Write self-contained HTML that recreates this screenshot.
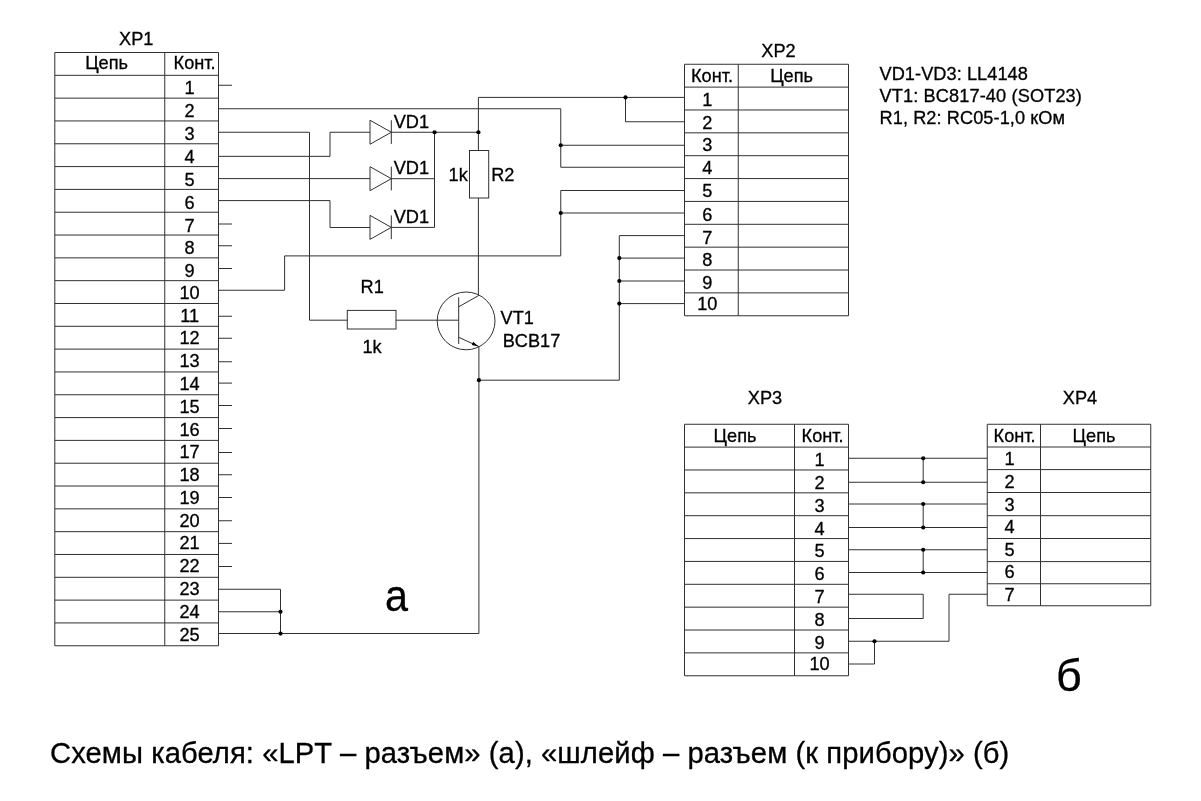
<!DOCTYPE html>
<html lang="ru"><head><meta charset="utf-8"><title>Схемы кабеля</title>
<style>
html,body{margin:0;padding:0;background:#fff}
svg{display:block;will-change:transform}
text{font-family:"Liberation Sans",sans-serif;font-size:18.2px;fill:#000;stroke:#000;stroke-width:.3px}
.w path,.w rect,.w circle{fill:none;stroke:#303030;stroke-width:1}
</style></head><body>
<svg width="1201" height="801" viewBox="0 0 1201 801">
<rect width="1201" height="801" fill="#fff"/>
<g class="w">
<path d="M54.8 52.5L218.5 52.5"/>
<path d="M54.8 75.32L218.5 75.32"/>
<path d="M54.8 98.13L218.5 98.13"/>
<path d="M54.8 120.95L218.5 120.95"/>
<path d="M54.8 143.77L218.5 143.77"/>
<path d="M54.8 166.59L218.5 166.59"/>
<path d="M54.8 189.4L218.5 189.4"/>
<path d="M54.8 212.22L218.5 212.22"/>
<path d="M54.8 235.04L218.5 235.04"/>
<path d="M54.8 257.86L218.5 257.86"/>
<path d="M54.8 280.67L218.5 280.67"/>
<path d="M54.8 303.49L218.5 303.49"/>
<path d="M54.8 326.31L218.5 326.31"/>
<path d="M54.8 349.12L218.5 349.12"/>
<path d="M54.8 371.94L218.5 371.94"/>
<path d="M54.8 394.76L218.5 394.76"/>
<path d="M54.8 417.58L218.5 417.58"/>
<path d="M54.8 440.39L218.5 440.39"/>
<path d="M54.8 463.21L218.5 463.21"/>
<path d="M54.8 486.03L218.5 486.03"/>
<path d="M54.8 508.85L218.5 508.85"/>
<path d="M54.8 531.66L218.5 531.66"/>
<path d="M54.8 554.48L218.5 554.48"/>
<path d="M54.8 577.3L218.5 577.3"/>
<path d="M54.8 600.12L218.5 600.12"/>
<path d="M54.8 622.93L218.5 622.93"/>
<path d="M54.8 645.75L218.5 645.75"/>
<path d="M54.8 52.5L54.8 645.75"/>
<path d="M164.75 52.5L164.75 645.75"/>
<path d="M218.5 52.5L218.5 645.75"/>
<path d="M684.5 64.25L848.5 64.25"/>
<path d="M684.5 87.11L848.5 87.11"/>
<path d="M684.5 109.98L848.5 109.98"/>
<path d="M684.5 132.84L848.5 132.84"/>
<path d="M684.5 155.7L848.5 155.7"/>
<path d="M684.5 178.57L848.5 178.57"/>
<path d="M684.5 201.43L848.5 201.43"/>
<path d="M684.5 224.3L848.5 224.3"/>
<path d="M684.5 247.16L848.5 247.16"/>
<path d="M684.5 270.02L848.5 270.02"/>
<path d="M684.5 292.89L848.5 292.89"/>
<path d="M684.5 315.75L848.5 315.75"/>
<path d="M684.5 64.25L684.5 315.75"/>
<path d="M738.25 64.25L738.25 315.75"/>
<path d="M848.5 64.25L848.5 315.75"/>
<path d="M684.5 424.25L848.5 424.25"/>
<path d="M684.5 447.11L848.5 447.11"/>
<path d="M684.5 469.98L848.5 469.98"/>
<path d="M684.5 492.84L848.5 492.84"/>
<path d="M684.5 515.7L848.5 515.7"/>
<path d="M684.5 538.57L848.5 538.57"/>
<path d="M684.5 561.43L848.5 561.43"/>
<path d="M684.5 584.3L848.5 584.3"/>
<path d="M684.5 607.16L848.5 607.16"/>
<path d="M684.5 630.02L848.5 630.02"/>
<path d="M684.5 652.89L848.5 652.89"/>
<path d="M684.5 675.75L848.5 675.75"/>
<path d="M684.5 424.25L684.5 675.75"/>
<path d="M794.5 424.25L794.5 675.75"/>
<path d="M848.5 424.25L848.5 675.75"/>
<path d="M987.25 424.25L1150.75 424.25"/>
<path d="M987.25 447L1150.75 447"/>
<path d="M987.25 469.6L1150.75 469.6"/>
<path d="M987.25 492.5L1150.75 492.5"/>
<path d="M987.25 515.7L1150.75 515.7"/>
<path d="M987.25 538.5L1150.75 538.5"/>
<path d="M987.25 561.6L1150.75 561.6"/>
<path d="M987.25 583.75L1150.75 583.75"/>
<path d="M987.25 605.75L1150.75 605.75"/>
<path d="M987.25 424.25L987.25 605.75"/>
<path d="M1040.5 424.25L1040.5 605.75"/>
<path d="M1150.75 424.25L1150.75 605.75"/>
<path d="M218.5 85.25L232 85.25"/>
<path d="M218.5 224L232 224"/>
<path d="M218.5 245.75L232 245.75"/>
<path d="M218.5 268.5L232 268.5"/>
<path d="M218.5 316.25L232 316.25"/>
<path d="M218.5 338.25L232 338.25"/>
<path d="M218.5 361.75L232 361.75"/>
<path d="M218.5 383.1L232 383.1"/>
<path d="M218.5 405.5L232 405.5"/>
<path d="M218.5 428.5L232 428.5"/>
<path d="M218.5 452.5L232 452.5"/>
<path d="M218.5 474.75L232 474.75"/>
<path d="M218.5 497.5L232 497.5"/>
<path d="M218.5 520.75L232 520.75"/>
<path d="M218.5 543.4L232 543.4"/>
<path d="M218.5 566.5L232 566.5"/>
<path d="M218.5 108.75L560.75 108.75L560.75 167.25L684.5 167.25"/>
<path d="M560.75 145.25L684.5 145.25"/>
<path d="M218.5 132.25L309.5 132.25L309.5 320.2L347.3 320.2"/>
<path d="M218.5 156.35L330 156.35L330 132.25L370 132.25"/>
<path d="M218.5 178.6L370 178.6"/>
<path d="M218.5 200.6L330 200.6L330 227.5L370 227.5"/>
<path d="M370 120.25L391.3 132.25L370 144.25L370 120.25"/>
<path d="M391.3 120.25L391.3 143.95"/>
<path d="M370 166.7L391.3 178.7L370 190.7L370 166.7"/>
<path d="M391.3 166.7L391.3 190.39999999999998"/>
<path d="M370 215.4L391.3 227.4L370 239.4L370 215.4"/>
<path d="M391.3 215.4L391.3 239.1"/>
<path d="M391.4 132.25L478.4 132.25"/>
<path d="M391.4 178.7L434.5 178.7"/>
<path d="M391.4 227.4L434.5 227.4L434.5 132.25"/>
<path d="M684.5 97.4L478.4 97.4L478.4 150.5"/>
<rect x="469.5" y="150.5" width="19.2" height="47.5"/>
<path d="M478.4 198L478.4 295.6"/>
<path d="M625.5 97.4L625.5 121.75L684.5 121.75"/>
<path d="M218.5 290.25L284.6 290.25L284.6 255.9L560.75 255.9L560.75 190.5L684.5 190.5"/>
<path d="M560.75 213L684.5 213"/>
<path d="M684.5 235.6L619.3 235.6L619.3 380.2L478.9 380.2"/>
<path d="M619.3 258.1L684.5 258.1"/>
<path d="M619.3 281L684.5 281"/>
<path d="M619.3 303.6L684.5 303.6"/>
<rect x="347.3" y="310.4" width="48.7" height="18.6"/>
<path d="M396 320.2L458.7 320.2"/>
<circle cx="466.1" cy="320.9" r="28.9"/>
<path d="M458.7 297.3L458.7 344"/>
<path d="M458.7 306.8L478.5 295.6"/>
<path d="M458.7 337.3L478.6 346.4"/>
<path d="M478.9 346.4L478.9 633.5L218.5 633.5"/>
<path d="M218.5 589.25L280.5 589.25L280.5 633.6"/>
<path d="M218.5 611.75L280.5 611.75"/>
<path d="M848.5 458.25L987.25 458.25"/>
<path d="M848.5 482.25L987.25 482.25"/>
<path d="M848.5 504L987.25 504"/>
<path d="M848.5 527.5L987.25 527.5"/>
<path d="M848.5 549.75L987.25 549.75"/>
<path d="M848.5 572.5L987.25 572.5"/>
<path d="M923.2 458.25L923.2 482.25"/>
<path d="M923.2 504L923.2 527.5"/>
<path d="M923.2 549.75L923.2 572.5"/>
<path d="M848.5 594.25L923.2 594.25L923.2 618.5L848.5 618.5"/>
<path d="M848.5 641.25L949 641.25L949 594.25L987.25 594.25"/>
<path d="M848.5 664L874.5 664L874.5 641.25"/>
</g>
<g fill="#000">
<circle cx="560.75" cy="145.25" r="2.1"/>
<circle cx="434.6" cy="132.25" r="2.1"/>
<circle cx="478.4" cy="132.25" r="2.1"/>
<circle cx="625.5" cy="97.4" r="2.1"/>
<circle cx="560.75" cy="213" r="2.1"/>
<circle cx="619.3" cy="258.1" r="2.1"/>
<circle cx="619.3" cy="281" r="2.1"/>
<circle cx="619.3" cy="303.6" r="2.1"/>
<circle cx="478.9" cy="380.2" r="2.1"/>
<path d="M478.6 346.5L471.8 344.9L473.1 341.8Z"/>
<circle cx="280.5" cy="611.75" r="2.1"/>
<circle cx="280.5" cy="633.6" r="2.1"/>
<circle cx="923.2" cy="458.25" r="2.1"/>
<circle cx="923.2" cy="482.25" r="2.1"/>
<circle cx="923.2" cy="504" r="2.1"/>
<circle cx="923.2" cy="527.5" r="2.1"/>
<circle cx="923.2" cy="549.75" r="2.1"/>
<circle cx="923.2" cy="572.5" r="2.1"/>
<circle cx="874.5" cy="641.25" r="2.1"/>
</g>
<g>
<text transform="translate(136.3 45) scale(1.0 0.97)" text-anchor="middle">XP1</text>
<text transform="translate(106.6 69.3) scale(1.0 0.97)" text-anchor="middle">Цепь</text>
<text transform="translate(194.6 69.3) scale(1.0 0.97)" text-anchor="middle">Конт.</text>
<text transform="translate(189.6 94.02) scale(1.0 0.97)" text-anchor="middle">1</text>
<text transform="translate(189.6 116.83) scale(1.0 0.97)" text-anchor="middle">2</text>
<text transform="translate(189.6 139.65) scale(1.0 0.97)" text-anchor="middle">3</text>
<text transform="translate(189.6 163.07) scale(1.0 0.97)" text-anchor="middle">4</text>
<text transform="translate(189.6 185.89) scale(1.0 0.97)" text-anchor="middle">5</text>
<text transform="translate(189.6 208.7) scale(1.0 0.97)" text-anchor="middle">6</text>
<text transform="translate(189.6 231.52) scale(1.0 0.97)" text-anchor="middle">7</text>
<text transform="translate(189.6 254.34) scale(1.0 0.97)" text-anchor="middle">8</text>
<text transform="translate(189.6 277.16) scale(1.0 0.97)" text-anchor="middle">9</text>
<text transform="translate(189.6 299.37) scale(1.0 0.97)" text-anchor="middle">10</text>
<text transform="translate(189.6 321.59) scale(1.0 0.97)" text-anchor="middle">11</text>
<text transform="translate(189.6 344.41) scale(1.0 0.97)" text-anchor="middle">12</text>
<text transform="translate(189.6 367.22) scale(1.0 0.97)" text-anchor="middle">13</text>
<text transform="translate(189.6 390.04) scale(1.0 0.97)" text-anchor="middle">14</text>
<text transform="translate(189.6 412.86) scale(1.0 0.97)" text-anchor="middle">15</text>
<text transform="translate(189.6 435.68) scale(1.0 0.97)" text-anchor="middle">16</text>
<text transform="translate(189.6 458.49) scale(1.0 0.97)" text-anchor="middle">17</text>
<text transform="translate(189.6 481.31) scale(1.0 0.97)" text-anchor="middle">18</text>
<text transform="translate(189.6 504.13) scale(1.0 0.97)" text-anchor="middle">19</text>
<text transform="translate(189.6 526.95) scale(1.0 0.97)" text-anchor="middle">20</text>
<text transform="translate(189.6 549.46) scale(1.0 0.97)" text-anchor="middle">21</text>
<text transform="translate(189.6 572.28) scale(1.0 0.97)" text-anchor="middle">22</text>
<text transform="translate(189.6 595.1) scale(1.0 0.97)" text-anchor="middle">23</text>
<text transform="translate(189.6 617.92) scale(1.0 0.97)" text-anchor="middle">24</text>
<text transform="translate(189.6 640.73) scale(1.0 0.97)" text-anchor="middle">25</text>
<text transform="translate(778.5 56.8) scale(1.0 0.97)" text-anchor="middle">XP2</text>
<text transform="translate(712 82) scale(1.0 0.97)" text-anchor="middle">Конт.</text>
<text transform="translate(791.6 82) scale(1.0 0.97)" text-anchor="middle">Цепь</text>
<text transform="translate(707.3 105.6) scale(1.0 0.97)" text-anchor="middle">1</text>
<text transform="translate(707.3 128.5) scale(1.0 0.97)" text-anchor="middle">2</text>
<text transform="translate(707.3 151.3) scale(1.0 0.97)" text-anchor="middle">3</text>
<text transform="translate(707.3 174.2) scale(1.0 0.97)" text-anchor="middle">4</text>
<text transform="translate(707.3 197.3) scale(1.0 0.97)" text-anchor="middle">5</text>
<text transform="translate(707.3 220.9) scale(1.0 0.97)" text-anchor="middle">6</text>
<text transform="translate(707.3 243.8) scale(1.0 0.97)" text-anchor="middle">7</text>
<text transform="translate(707.3 266.2) scale(1.0 0.97)" text-anchor="middle">8</text>
<text transform="translate(707.3 288.5) scale(1.0 0.97)" text-anchor="middle">9</text>
<text transform="translate(707.3 309.6) scale(1.0 0.97)" text-anchor="middle">10</text>
<text transform="translate(765 403.8) scale(1.0 0.97)" text-anchor="middle">XP3</text>
<text transform="translate(735 441.5) scale(1.0 0.97)" text-anchor="middle">Цепь</text>
<text transform="translate(822.6 441.5) scale(1.0 0.97)" text-anchor="middle">Конт.</text>
<text transform="translate(819.6 465.91) scale(1.0 0.97)" text-anchor="middle">1</text>
<text transform="translate(819.6 488.78) scale(1.0 0.97)" text-anchor="middle">2</text>
<text transform="translate(819.6 511.64) scale(1.0 0.97)" text-anchor="middle">3</text>
<text transform="translate(819.6 534.5) scale(1.0 0.97)" text-anchor="middle">4</text>
<text transform="translate(819.6 557.37) scale(1.0 0.97)" text-anchor="middle">5</text>
<text transform="translate(819.6 580.23) scale(1.0 0.97)" text-anchor="middle">6</text>
<text transform="translate(819.6 603.1) scale(1.0 0.97)" text-anchor="middle">7</text>
<text transform="translate(819.6 626.46) scale(1.0 0.97)" text-anchor="middle">8</text>
<text transform="translate(819.6 649.07) scale(1.0 0.97)" text-anchor="middle">9</text>
<text transform="translate(819.6 670.44) scale(1.0 0.97)" text-anchor="middle">10</text>
<text transform="translate(1080 403.8) scale(1.0 0.97)" text-anchor="middle">XP4</text>
<text transform="translate(1014.6 441.5) scale(1.0 0.97)" text-anchor="middle">Конт.</text>
<text transform="translate(1094 441.5) scale(1.0 0.97)" text-anchor="middle">Цепь</text>
<text transform="translate(1009.6 464.5) scale(1.0 0.97)" text-anchor="middle">1</text>
<text transform="translate(1009.6 488) scale(1.0 0.97)" text-anchor="middle">2</text>
<text transform="translate(1009.6 510.5) scale(1.0 0.97)" text-anchor="middle">3</text>
<text transform="translate(1009.6 533.3) scale(1.0 0.97)" text-anchor="middle">4</text>
<text transform="translate(1009.6 555.5) scale(1.0 0.97)" text-anchor="middle">5</text>
<text transform="translate(1009.6 578.3) scale(1.0 0.97)" text-anchor="middle">6</text>
<text transform="translate(1009.6 601.3) scale(1.0 0.97)" text-anchor="middle">7</text>
<text transform="translate(393.7 127.6) scale(1.0 0.97)">VD1</text>
<text transform="translate(393.7 173.9) scale(1.0 0.97)">VD1</text>
<text transform="translate(393.7 222.8) scale(1.0 0.97)">VD1</text>
<text transform="translate(448.6 180.6) scale(1.0 0.97)">1k</text>
<text transform="translate(491.2 180.8) scale(1.0 0.97)">R2</text>
<text transform="translate(360.6 292.8) scale(1.0 0.97)">R1</text>
<text transform="translate(362.4 352.7) scale(1.0 0.97)">1k</text>
<text transform="translate(500.6 323.6) scale(1.0 0.97)">VT1</text>
<text transform="translate(502.7 347.3) scale(1.0 0.97)">BCB17</text>
<text transform="translate(879.5 79.5) scale(1 0.97)" textLength="148.4" lengthAdjust="spacing">VD1-VD3: LL4148</text>
<text transform="translate(879.5 101.8) scale(1 0.97)" textLength="202.4" lengthAdjust="spacing">VT1: BC817-40 (SOT23)</text>
<text transform="translate(879.5 123.8) scale(1 0.97)" textLength="185.5" lengthAdjust="spacing">R1, R2: RC05-1,0 кОм</text>
<text transform="translate(385.1 611.1) scale(0.92 0.985)" style="font-size:45px">а</text>
<text transform="translate(1056 690.6) scale(1 0.97)" style="font-size:45px">б</text>
<text transform="translate(50 763) scale(1 1)" textLength="959.3" lengthAdjust="spacing" style="font-size:29.2px">Схемы кабеля: «LPT – разъем» (а), «шлейф – разъем (к прибору)» (б)</text>
</g>
</svg>
</body></html>
